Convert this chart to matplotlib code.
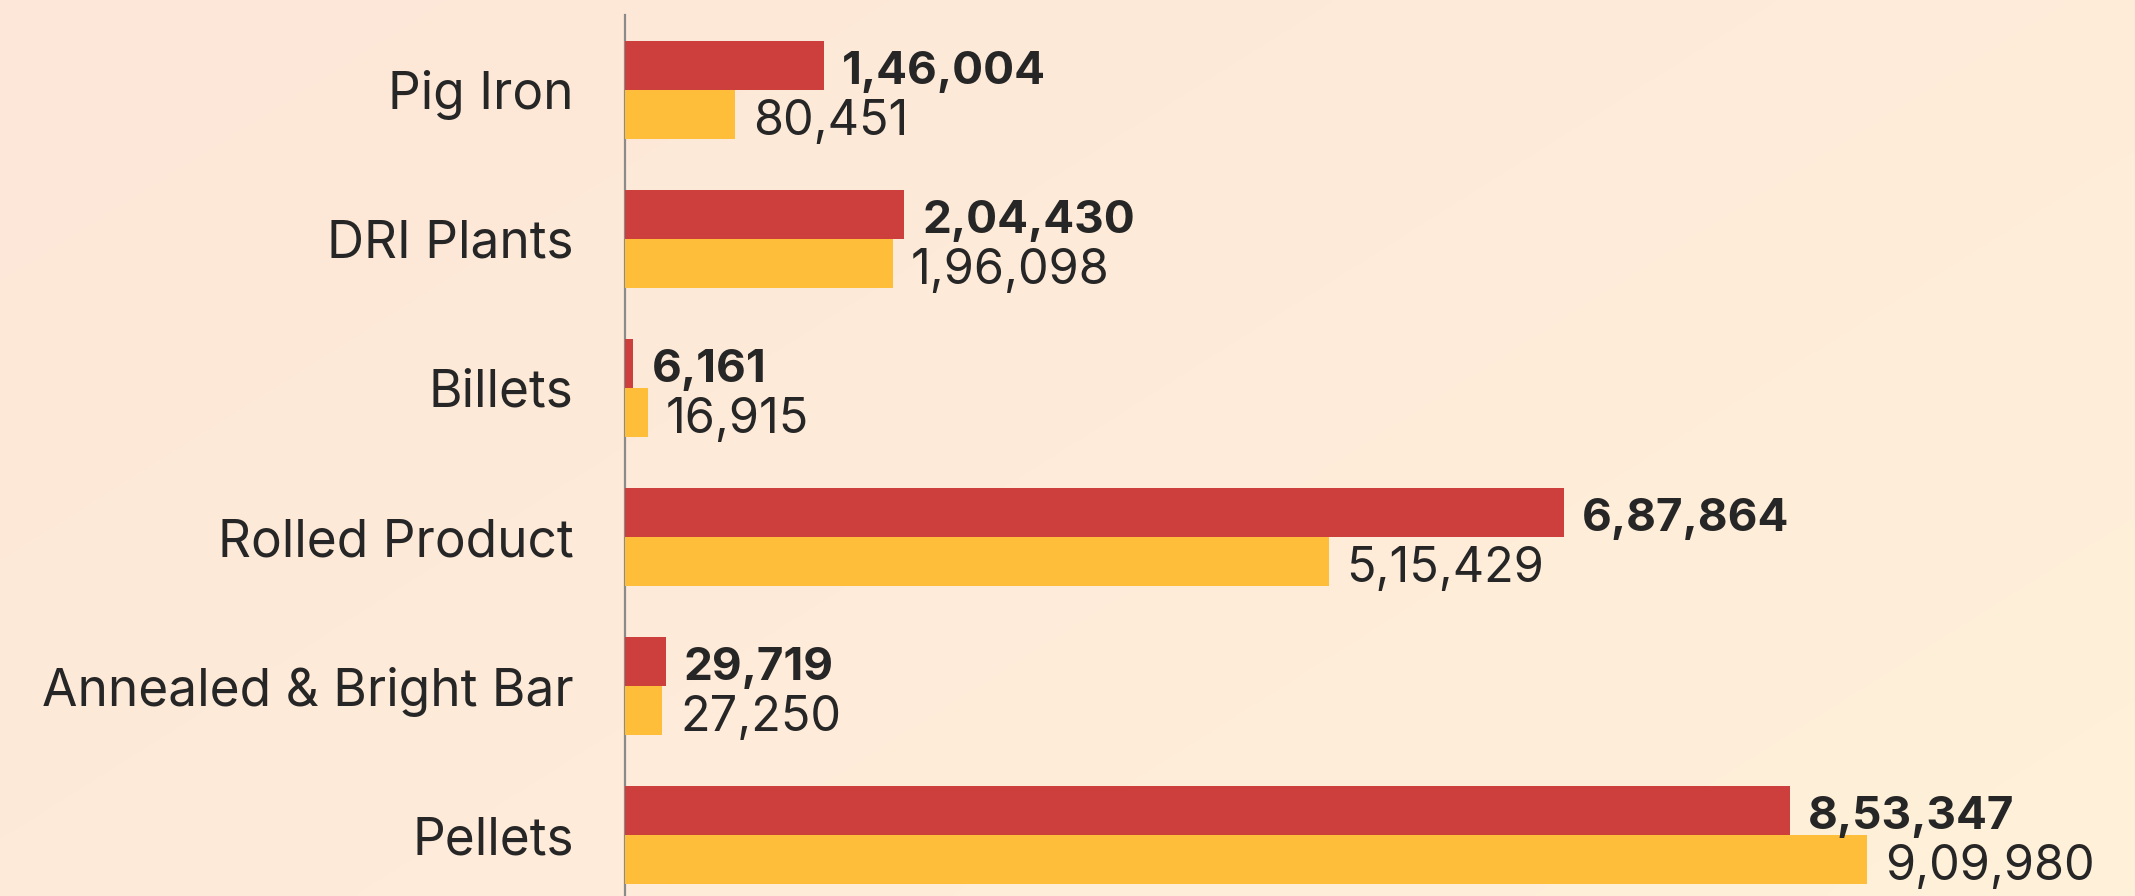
import numpy as np
import matplotlib
matplotlib.use("Agg")
import matplotlib.pyplot as plt
from matplotlib.colors import LinearSegmentedColormap

categories = ["Pig Iron", "DRI Plants", "Billets", "Rolled Product",
              "Annealed & Bright Bar", "Pellets"]
series_current = [146004, 204430, 6161, 687864, 29719, 853347]
series_previous = [80451, 196098, 16915, 515429, 27250, 909980]
labels_current = ["1,46,004", "2,04,430", "6,161", "6,87,864", "29,719", "8,53,347"]
labels_previous = ["80,451", "1,96,098", "16,915", "5,15,429", "27,250", "9,09,980"]

RED = "#CD3F3C"
YELLOW = "#FFBE3A"
TEXT = "#262626"
FONT = ["Inter", "DejaVu Sans"]

plt.rcParams["font.family"] = FONT

fig = plt.figure(figsize=(21.35, 8.96), dpi=100)

# background gradient
bg = fig.add_axes([0, 0, 1, 1], zorder=-10)
cmap = LinearSegmentedColormap.from_list("bg", ["#FDE7D8", "#FEEBD9", "#FEF1DA"])
yy, xx = np.mgrid[0:1:200j, 0:1:400j]
grad = (xx * 0.6 + yy * 0.4)
bg.imshow(grad, cmap=cmap, aspect="auto", extent=[0, 1, 1, 0], interpolation="bilinear")
bg.set_axis_off()

ax = fig.add_axes([625 / 2135, 0.0, 1 - 625 / 2135, 1 - 15 / 896])
ax.set_facecolor("none")

y = np.arange(len(categories))
h = 0.33
ax.barh(y - h / 2, series_current, height=h, color=RED, zorder=3)
ax.barh(y + h / 2, series_previous, height=h, color=YELLOW, zorder=3)

for yi, v, lab in zip(y, series_current, labels_current):
    ax.annotate(lab, xy=(v, yi - h / 2), xytext=(13, -1.5), textcoords="offset points",
                va="center_baseline", ha="left", fontsize=33, fontweight="bold",
                color=TEXT)
for yi, v, lab in zip(y, series_previous, labels_previous):
    ax.annotate(lab, xy=(v, yi + h / 2), xytext=(13, -1.5), textcoords="offset points",
                va="center_baseline", ha="left", fontsize=35, color=TEXT)

ax.set_yticks(y)
ax.set_yticklabels(categories, fontsize=37, color=TEXT)
ax.tick_params(axis="y", length=0, pad=37)
ax.set_xticks([])

ax.set_xlim(0, (2135 - 625) / 0.001365)
ax.set_ylim(5.409, -0.503)

for s in ["top", "right", "bottom"]:
    ax.spines[s].set_visible(False)
ax.spines["left"].set_color("#8A8A8A")
ax.spines["left"].set_linewidth(1.6)

fig.savefig("out.png", dpi=100)
